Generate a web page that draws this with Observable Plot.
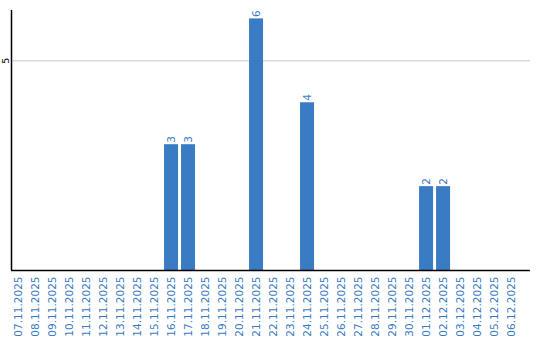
<!DOCTYPE html>
<html>
<head>
<meta charset="utf-8">
<script src="https://cdn.jsdelivr.net/npm/d3@7"></script>
<script src="https://cdn.jsdelivr.net/npm/@observablehq/plot@0.6"></script>
<style>
  html, body { margin: 0; padding: 0; background: #fff; }
  #chart { width: 540px; height: 340px; }
</style>
</head>
<body>
<div id="chart"></div>
<script>
const dates = [
  "07.11.2025","08.11.2025","09.11.2025","10.11.2025","11.11.2025","12.11.2025",
  "13.11.2025","14.11.2025","15.11.2025","16.11.2025","17.11.2025","18.11.2025",
  "19.11.2025","20.11.2025","21.11.2025","22.11.2025","23.11.2025","24.11.2025",
  "25.11.2025","26.11.2025","27.11.2025","28.11.2025","29.11.2025","30.11.2025",
  "01.12.2025","02.12.2025","03.12.2025","04.12.2025","05.12.2025","06.12.2025"
];
const counts = [
  0,0,0,0,0,0,
  0,0,0,3,3,0,
  0,0,6,0,0,4,
  0,0,0,0,0,0,
  2,2,0,0,0,0
];
const yTicks = [5];

const blue = "#3a7cc3";
const data = dates.map((d, i) => ({date: d, value: counts[i]}));
const nonZero = data.filter(d => d.value > 0);

const plot = Plot.plot({
  width: 540,
  height: 340,
  marginLeft: 11,
  marginRight: 10,
  marginTop: 10,
  marginBottom: 70,
  style: {fontFamily: "DejaVu Sans", background: "#fff"},
  x: {type: "band", domain: dates, paddingInner: 0.176, paddingOuter: 0.35, align: 0, round: false, label: null},
  y: {domain: [0, 6.2], label: null, axis: null},
  marks: [
    Plot.ruleY(yTicks, {stroke: "#c8c8c8"}),
    Plot.barY(data, {x: "date", y: "value", fill: blue}),
    Plot.text(nonZero, {x: "date", y: "value", text: d => String(d.value), rotate: -90, textAnchor: "start", dy: -2, fill: blue, fontSize: 10.5}),
    Plot.text(yTicks, {y: d => d, text: d => String(d), frameAnchor: "left", textAnchor: "middle", rotate: -90, dx: -6, fill: "#000", fontSize: 9.5}),
    Plot.axisX({tickRotate: -90, tickSize: 0, tickPadding: 6, fontSize: 10.5, color: blue, label: null}),
    Plot.ruleY([0], {stroke: "#000", strokeWidth: 1.5}),
    Plot.ruleX([dates[0]], {x: d => d, y1: 0, y2: 6.2, dx: -7, stroke: "#000", strokeWidth: 1.5})
  ]
});
document.getElementById("chart").appendChild(plot);
</script>
</body>
</html>
